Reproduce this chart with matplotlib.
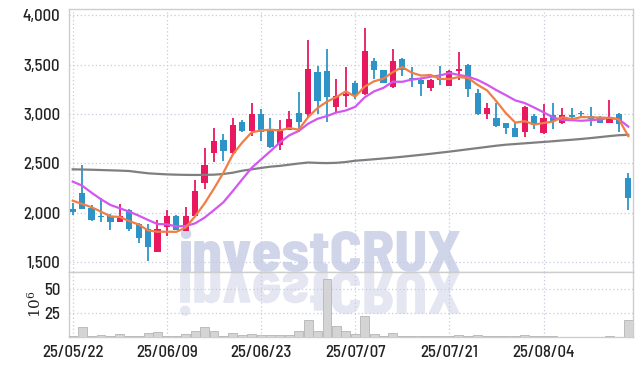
import numpy as np
import pandas as pd
import matplotlib
matplotlib.use("Agg")
import matplotlib.pyplot as plt
from matplotlib.font_manager import FontProperties
from matplotlib.textpath import TextPath
from matplotlib.patches import PathPatch
from matplotlib.transforms import Affine2D, IdentityTransform
from matplotlib.ticker import FuncFormatter

# trading days (KRX holidays removed)
dates = pd.bdate_range("2025-05-22", "2025-08-18", freq="C",
                       holidays=["2025-06-03", "2025-06-06", "2025-08-15"])

opens = [2040, 2205, 2055, 1960, 1970, 1912, 2025, 1890, 1840, 1610,
         1855, 1970, 1820, 1965, 2300, 2610, 2740, 2610, 2920, 2830,
         3000, 2850, 2690, 2840, 3015, 3000, 3420, 3435, 3075, 3185,
         3310, 3200, 3535, 3445, 3275, 3555, 3365, 3345, 3260, 3345,
         3285, 3437, 3495, 3210, 3000, 2955, 2905, 2855, 2820, 2980,
         2810, 2990, 2912, 2990, 3013, 2980, 2975, 2912, 3005, 2355]
highs = [2100, 2485, 2085, 2150, 1985, 2090, 2035, 1900, 1890, 1925,
         2030, 1975, 2065, 2330, 2655, 2855, 2800, 2965, 2940, 3110,
         3050, 2955, 2940, 3035, 3225, 3750, 3485, 3660, 3350, 3480,
         3335, 3865, 3565, 3450, 3655, 3570, 3480, 3350, 3350, 3490,
         3450, 3625, 3510, 3250, 3108, 3110, 2910, 2920, 3080, 3005,
         3100, 3110, 3060, 3060, 3030, 3075, 2980, 3140, 3010, 2405]
lows = [1980, 2035, 1920, 1905, 1830, 1910, 1820, 1700, 1510, 1605,
        1770, 1825, 1815, 1960, 2240, 2520, 2525, 2600, 2815, 2780,
        2725, 2660, 2635, 2835, 2820, 2975, 3005, 2920, 3015, 3075,
        3150, 3190, 3355, 3310, 3265, 3385, 3275, 3180, 3235, 3295,
        3280, 3345, 3175, 2990, 2945, 2870, 2795, 2765, 2770, 2845,
        2800, 2845, 2900, 2945, 2955, 2880, 2910, 2905, 2820, 2030]
closes = [2005, 2040, 1925, 1955, 1905, 1970, 1835, 1750, 1655, 1840,
          1970, 1830, 1970, 2225, 2485, 2725, 2630, 2890, 2830, 3000,
          2820, 2670, 2850, 2950, 2920, 3455, 3130, 3175, 3180, 3205,
          3190, 3635, 3445, 3315, 3535, 3445, 3350, 3300, 3345, 3340,
          3435, 3451, 3250, 3000, 3058, 2880, 2855, 2770, 3075, 2890,
          2955, 2930, 2990, 2975, 2997, 2945, 2912, 2975, 2900, 2150]
# volume in millions
volume = [1.0, 10.0, 1.0, 2.0, 1.0, 3.4, 1.0, 1.0, 4.0, 5.5,
          1.5, 1.0, 3.4, 6.6, 10.4, 6.6, 1.5, 4.0, 2.0, 3.4,
          2.0, 2.0, 2.0, 2.0, 6.6, 18.0, 6.6, 61.0, 12.0, 6.6,
          3.4, 22.0, 3.4, 1.5, 4.0, 1.5, 1.5, 1.0, 1.0, 1.4,
          0.8, 2.4, 1.0, 2.4, 1.0, 1.0, 1.0, 1.0, 2.4, 1.0,
          1.0, 0.8, 0.5, 0.5, 0.5, 0.5, 0.5, 1.4, 0.5, 18.0]

# moving averages
ma5 = [2124, 2091, 2058, 2013, 1966, 1959, 1918, 1883, 1823, 1810,
       1810, 1809, 1853, 1967, 2096, 2247, 2407, 2591, 2712, 2815,
       2834, 2842, 2834, 2858, 2842, 2969, 3061, 3126, 3172, 3229,
       3176, 3277, 3331, 3358, 3424, 3475, 3418, 3389, 3395, 3356,
       3354, 3374, 3364, 3295, 3239, 3128, 3009, 2913, 2928, 2894,
       2909, 2924, 2968, 2948, 2969, 2967, 2964, 2961, 2946, 2776]
ma10 = [2317, 2276, 2205, 2138, 2081, 2047, 2013, 1973, 1929, 1888,
        1885, 1864, 1868, 1895, 1953, 2029, 2108, 2222, 2340, 2456,
        2541, 2625, 2713, 2785, 2829, 2902, 2952, 2980, 3015, 3036,
        3073, 3169, 3229, 3265, 3327, 3326, 3348, 3360, 3377, 3390,
        3415, 3396, 3377, 3345, 3297, 3241, 3191, 3138, 3111, 3066,
        3018, 2966, 2940, 2938, 2932, 2938, 2944, 2964, 2947, 2873]
ma_long = [2441, 2439, 2437, 2434, 2431, 2428, 2424, 2412, 2401, 2395,
           2390, 2387, 2385, 2384, 2385, 2387, 2394, 2407, 2427, 2441,
           2455, 2468, 2476, 2488, 2500, 2510, 2506, 2504, 2507, 2515,
           2528, 2535, 2543, 2551, 2559, 2568, 2578, 2588, 2598, 2609,
           2620, 2632, 2644, 2656, 2668, 2680, 2690, 2697, 2704, 2711,
           2718, 2725, 2733, 2740, 2748, 2757, 2767, 2777, 2786, 2790]

UP = "#e8195f"
DOWN = "#2e94c8"
GRID = "#c6cbe0"
SPINE = "#cdcdcd"

plt.rcParams["font.family"] = ["Barlow Semi Condensed", "DejaVu Sans"]
plt.rcParams["font.weight"] = 500
plt.rcParams["mathtext.fontset"] = "dejavuserif"

W, H = 642, 366
fig = plt.figure(figsize=(W / 100, H / 100), dpi=100)
ax = fig.add_axes([68.5 / W, 1 - 272 / H, (633 - 68.5) / W, (272 - 9) / H])
axv = fig.add_axes([68.5 / W, 1 - 337 / H, (633 - 68.5) / W, (337 - 272) / H], sharex=ax)

x = np.arange(len(dates))
o = np.array(opens, float)
c = np.array(closes, float)
colors = [UP if cc >= oo else DOWN for oo, cc in zip(o, c)]
body_lo = np.minimum(o, c)
body_h = np.maximum(np.abs(c - o), 12)

ax.vlines(x, lows, highs, colors=colors, lw=1.3, zorder=3)
ax.bar(x, body_h, bottom=body_lo, width=0.66, color=colors, zorder=4)

ax.plot(x, ma_long, color="#7f7f7f", lw=1.6, zorder=5)
ax.plot(x, ma10, color="#d257ef", lw=1.6, zorder=5)
ax.plot(x, ma5, color="#ef7f45", lw=1.6, zorder=6)

axv.bar(x, volume, width=0.95, color="#d4d4d4", edgecolor="#b5b5b5", lw=0.6, zorder=3)

ax.set_xlim(-0.45, 59.5)
ax.set_ylim(1403, 4062)
ax.set_yticks([1500, 2000, 2500, 3000, 3500, 4000])
ax.yaxis.set_major_formatter(FuncFormatter(lambda v, p: f"{v:,.0f}"))
axv.set_ylim(0, 68)
axv.set_yticks([25, 50])

tick_pos = x[::10]
axv.set_xticks(tick_pos)
axv.set_xticklabels([d.strftime("%y/%m/%d") for d in dates[::10]])
plt.setp(ax.get_xticklabels(), visible=False)

for a in (ax, axv):
    a.set_axisbelow(True)
    a.grid(True, color=GRID, lw=0.9, linestyle=(0, (1, 2)))
    a.tick_params(length=0, labelsize=12, labelcolor="#222222", pad=6)
    for s in a.spines.values():
        s.set_color(SPINE)
        s.set_linewidth(1.0)
axv.set_ylabel(r"$10^6$", fontsize=11, labelpad=0, color="#222222")

# watermark and its reflection
wm_font = FontProperties(family=["Barlow Semi Condensed", "DejaVu Sans"], weight=800)
wm_x, wm_base = 178, H - 272
wm = ax.text(wm_x, wm_base, "investCRUX", transform=IdentityTransform(),
             fontproperties=wm_font, fontsize=40, color="#d0d5e9",
             ha="left", va="baseline", zorder=0.2)
fig.canvas.draw()
bb = wm.get_window_extent()
fs = 40 * (461 - 178) / bb.width
wm.set_fontsize(fs)

tp = TextPath((0, 0), "investCRUX", size=fs * 100 / 72, prop=wm_font)
refl = PathPatch(tp, transform=Affine2D().scale(1, -1).translate(wm_x, wm_base) + IdentityTransform(),
                 facecolor="#e4e6f1", edgecolor="none", zorder=0.2)
axv.add_patch(refl)
refl.set_clip_on(False)

fig.savefig("out.png", dpi=100)
